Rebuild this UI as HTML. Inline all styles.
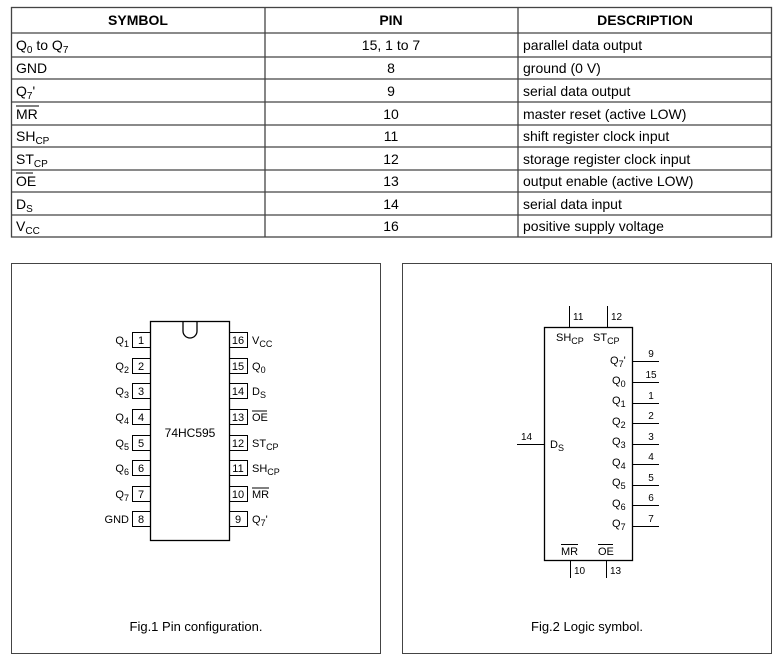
<!DOCTYPE html>
<html><head><meta charset="utf-8"><style>
html,body{margin:0;padding:0;background:#fff;width:781px;height:660px;overflow:hidden}
svg{display:block}
text{font-family:"Liberation Sans",Arial,sans-serif;fill:#000}
.t{font-size:14px}
.h{font-size:14px;font-weight:bold}
.s{font-size:11px}
.n{font-size:10px}
</style></head><body>
<svg width="781" height="660" viewBox="0 0 781 660" xmlns="http://www.w3.org/2000/svg">
<g stroke="#444" stroke-width="1.3" fill="none">
<rect x="11.5" y="7.5" width="760" height="229.5"/>
<line x1="265" y1="7" x2="265" y2="237"/>
<line x1="518" y1="7" x2="518" y2="237"/>
<line x1="11" y1="33" x2="772" y2="33"/>
<line x1="11" y1="57" x2="772" y2="57"/>
<line x1="11" y1="79" x2="772" y2="79"/>
<line x1="11" y1="102" x2="772" y2="102"/>
<line x1="11" y1="125" x2="772" y2="125"/>
<line x1="11" y1="147" x2="772" y2="147"/>
<line x1="11" y1="170" x2="772" y2="170"/>
<line x1="11" y1="192" x2="772" y2="192"/>
<line x1="11" y1="215" x2="772" y2="215"/>
</g>
<text class="h" x="138" y="25" text-anchor="middle">SYMBOL</text>
<text class="h" x="391" y="25" text-anchor="middle">PIN</text>
<text class="h" x="645" y="25" text-anchor="middle">DESCRIPTION</text>
<g class="t">
<text x="16" y="50">Q<tspan font-size="10" dy="3">0</tspan><tspan dy="-3"> to Q</tspan><tspan font-size="10" dy="3">7</tspan></text>
<text x="16" y="73">GND</text>
<text x="16" y="96">Q<tspan font-size="10" dy="3">7</tspan><tspan dy="-3">'</tspan></text>
<text x="16" y="119">MR</text>
<text x="16" y="141">SH<tspan font-size="10" dy="3">CP</tspan></text>
<text x="16" y="164">ST<tspan font-size="10" dy="3">CP</tspan></text>
<text x="16" y="186">OE</text>
<text x="16" y="209">D<tspan font-size="10" dy="3">S</tspan></text>
<text x="16" y="231">V<tspan font-size="10" dy="3">CC</tspan></text>
<text x="391" y="50" text-anchor="middle">15, 1 to 7</text>
<text x="391" y="73" text-anchor="middle">8</text>
<text x="391" y="96" text-anchor="middle">9</text>
<text x="391" y="119" text-anchor="middle">10</text>
<text x="391" y="141" text-anchor="middle">11</text>
<text x="391" y="164" text-anchor="middle">12</text>
<text x="391" y="186" text-anchor="middle">13</text>
<text x="391" y="209" text-anchor="middle">14</text>
<text x="391" y="231" text-anchor="middle">16</text>
<text x="523" y="50">parallel data output</text>
<text x="523" y="73">ground (0 V)</text>
<text x="523" y="96">serial data output</text>
<text x="523" y="119">master reset (active LOW)</text>
<text x="523" y="141">shift register clock input</text>
<text x="523" y="164">storage register clock input</text>
<text x="523" y="186">output enable (active LOW)</text>
<text x="523" y="209">serial data input</text>
<text x="523" y="231">positive supply voltage</text>
</g>
<g stroke="#000" stroke-width="1">
<line x1="16" y1="106" x2="39" y2="106"/>
<line x1="16" y1="173" x2="33" y2="173"/>
</g>
<!-- panels -->
<g stroke="#444" stroke-width="1" fill="none">
<rect x="11.5" y="263.5" width="369" height="390"/>
<rect x="402.5" y="263.5" width="369" height="390"/>
</g>
<!-- chip -->
<g stroke="#000" stroke-width="1.3" fill="none">
<rect x="150.5" y="321.5" width="79" height="219"/>
<path d="M183 322 V331 A7 7 0 0 0 197 331 V322"/>
<g stroke-width="1">
<rect x="132.5" y="332.5" width="18" height="15"/><rect x="132.5" y="358.5" width="18" height="15"/>
<rect x="132.5" y="383.5" width="18" height="15"/><rect x="132.5" y="409.5" width="18" height="15"/>
<rect x="132.5" y="435.5" width="18" height="15"/><rect x="132.5" y="460.5" width="18" height="15"/>
<rect x="132.5" y="486.5" width="18" height="15"/><rect x="132.5" y="511.5" width="18" height="15"/>
<rect x="229.5" y="332.5" width="18" height="15"/><rect x="229.5" y="358.5" width="18" height="15"/>
<rect x="229.5" y="383.5" width="18" height="15"/><rect x="229.5" y="409.5" width="18" height="15"/>
<rect x="229.5" y="435.5" width="18" height="15"/><rect x="229.5" y="460.5" width="18" height="15"/>
<rect x="229.5" y="486.5" width="18" height="15"/><rect x="229.5" y="511.5" width="18" height="15"/>
</g></g>
<g class="s">
<text x="141" y="344" text-anchor="middle">1</text><text x="141" y="370" text-anchor="middle">2</text>
<text x="141" y="395" text-anchor="middle">3</text><text x="141" y="421" text-anchor="middle">4</text>
<text x="141" y="447" text-anchor="middle">5</text><text x="141" y="472" text-anchor="middle">6</text>
<text x="141" y="498" text-anchor="middle">7</text><text x="141" y="523" text-anchor="middle">8</text>
<text x="238" y="344" text-anchor="middle">16</text><text x="238" y="370" text-anchor="middle">15</text>
<text x="238" y="395" text-anchor="middle">14</text><text x="238" y="421" text-anchor="middle">13</text>
<text x="238" y="447" text-anchor="middle">12</text><text x="238" y="472" text-anchor="middle">11</text>
<text x="238" y="498" text-anchor="middle">10</text><text x="238" y="523" text-anchor="middle">9</text>
<text x="129" y="344" text-anchor="end">Q<tspan font-size="9" dy="3">1</tspan></text>
<text x="129" y="370" text-anchor="end">Q<tspan font-size="9" dy="3">2</tspan></text>
<text x="129" y="395" text-anchor="end">Q<tspan font-size="9" dy="3">3</tspan></text>
<text x="129" y="421" text-anchor="end">Q<tspan font-size="9" dy="3">4</tspan></text>
<text x="129" y="447" text-anchor="end">Q<tspan font-size="9" dy="3">5</tspan></text>
<text x="129" y="472" text-anchor="end">Q<tspan font-size="9" dy="3">6</tspan></text>
<text x="129" y="498" text-anchor="end">Q<tspan font-size="9" dy="3">7</tspan></text>
<text x="129" y="523" text-anchor="end">GND</text>
<text x="252" y="344">V<tspan font-size="9" dy="3">CC</tspan></text>
<text x="252" y="370">Q<tspan font-size="9" dy="3">0</tspan></text>
<text x="252" y="395">D<tspan font-size="9" dy="3">S</tspan></text>
<text x="252" y="421">OE</text>
<text x="252" y="447">ST<tspan font-size="9" dy="3">CP</tspan></text>
<text x="252" y="472">SH<tspan font-size="9" dy="3">CP</tspan></text>
<text x="252" y="498">MR</text>
<text x="252" y="523">Q<tspan font-size="9" dy="3">7</tspan><tspan dy="-3">'</tspan></text>
<text x="190" y="437" text-anchor="middle" font-size="12">74HC595</text>
</g>
<g stroke="#000" stroke-width="1">
<line x1="252" y1="411" x2="267" y2="411"/>
<line x1="252" y1="488" x2="269" y2="488"/>
</g>
<!-- logic symbol -->
<g stroke="#000" stroke-width="1.3" fill="none">
<rect x="544.5" y="327.5" width="88" height="233"/>
<g stroke-width="1">
<line x1="569.5" y1="306" x2="569.5" y2="327"/>
<line x1="607.5" y1="306" x2="607.5" y2="327"/>
<line x1="570.5" y1="561" x2="570.5" y2="578"/>
<line x1="606.5" y1="561" x2="606.5" y2="578"/>
<line x1="517" y1="444.5" x2="544" y2="444.5"/>
<line x1="632" y1="361.5" x2="659" y2="361.5"/>
<line x1="632" y1="382.5" x2="659" y2="382.5"/>
<line x1="632" y1="403.5" x2="659" y2="403.5"/>
<line x1="632" y1="423.5" x2="659" y2="423.5"/>
<line x1="632" y1="444.5" x2="659" y2="444.5"/>
<line x1="632" y1="464.5" x2="659" y2="464.5"/>
<line x1="632" y1="485.5" x2="659" y2="485.5"/>
<line x1="632" y1="505.5" x2="659" y2="505.5"/>
<line x1="632" y1="526.5" x2="659" y2="526.5"/>
<line x1="561" y1="544.5" x2="578" y2="544.5"/>
<line x1="598" y1="544.5" x2="613" y2="544.5"/>
</g></g>
<g class="s">
<text x="573" y="320" class="n">11</text><text x="611" y="320" class="n">12</text>
<text x="574" y="574" class="n">10</text><text x="610" y="574" class="n">13</text>
<text x="521" y="440" class="n">14</text>
<text x="651" y="357" class="n" text-anchor="middle">9</text>
<text x="651" y="378" class="n" text-anchor="middle">15</text>
<text x="651" y="399" class="n" text-anchor="middle">1</text>
<text x="651" y="419" class="n" text-anchor="middle">2</text>
<text x="651" y="440" class="n" text-anchor="middle">3</text>
<text x="651" y="460" class="n" text-anchor="middle">4</text>
<text x="651" y="481" class="n" text-anchor="middle">5</text>
<text x="651" y="501" class="n" text-anchor="middle">6</text>
<text x="651" y="522" class="n" text-anchor="middle">7</text>
<text x="556" y="341">SH<tspan font-size="9" dy="3">CP</tspan></text>
<text x="593" y="341">ST<tspan font-size="9" dy="3">CP</tspan></text>
<text x="550" y="448">D<tspan font-size="9" dy="3">S</tspan></text>
<text x="610" y="364">Q<tspan font-size="9" dy="3">7</tspan><tspan dy="-3">'</tspan></text>
<text x="612" y="384">Q<tspan font-size="9" dy="3">0</tspan></text>
<text x="612" y="404">Q<tspan font-size="9" dy="3">1</tspan></text>
<text x="612" y="425">Q<tspan font-size="9" dy="3">2</tspan></text>
<text x="612" y="445">Q<tspan font-size="9" dy="3">3</tspan></text>
<text x="612" y="466">Q<tspan font-size="9" dy="3">4</tspan></text>
<text x="612" y="486">Q<tspan font-size="9" dy="3">5</tspan></text>
<text x="612" y="507">Q<tspan font-size="9" dy="3">6</tspan></text>
<text x="612" y="527">Q<tspan font-size="9" dy="3">7</tspan></text>
<text x="561" y="555">MR</text>
<text x="598" y="555">OE</text>
</g>
<text x="196" y="631" text-anchor="middle" font-size="13">Fig.1  Pin configuration.</text>
<text x="587" y="631" text-anchor="middle" font-size="13">Fig.2  Logic symbol.</text>
</svg>
</body></html>
